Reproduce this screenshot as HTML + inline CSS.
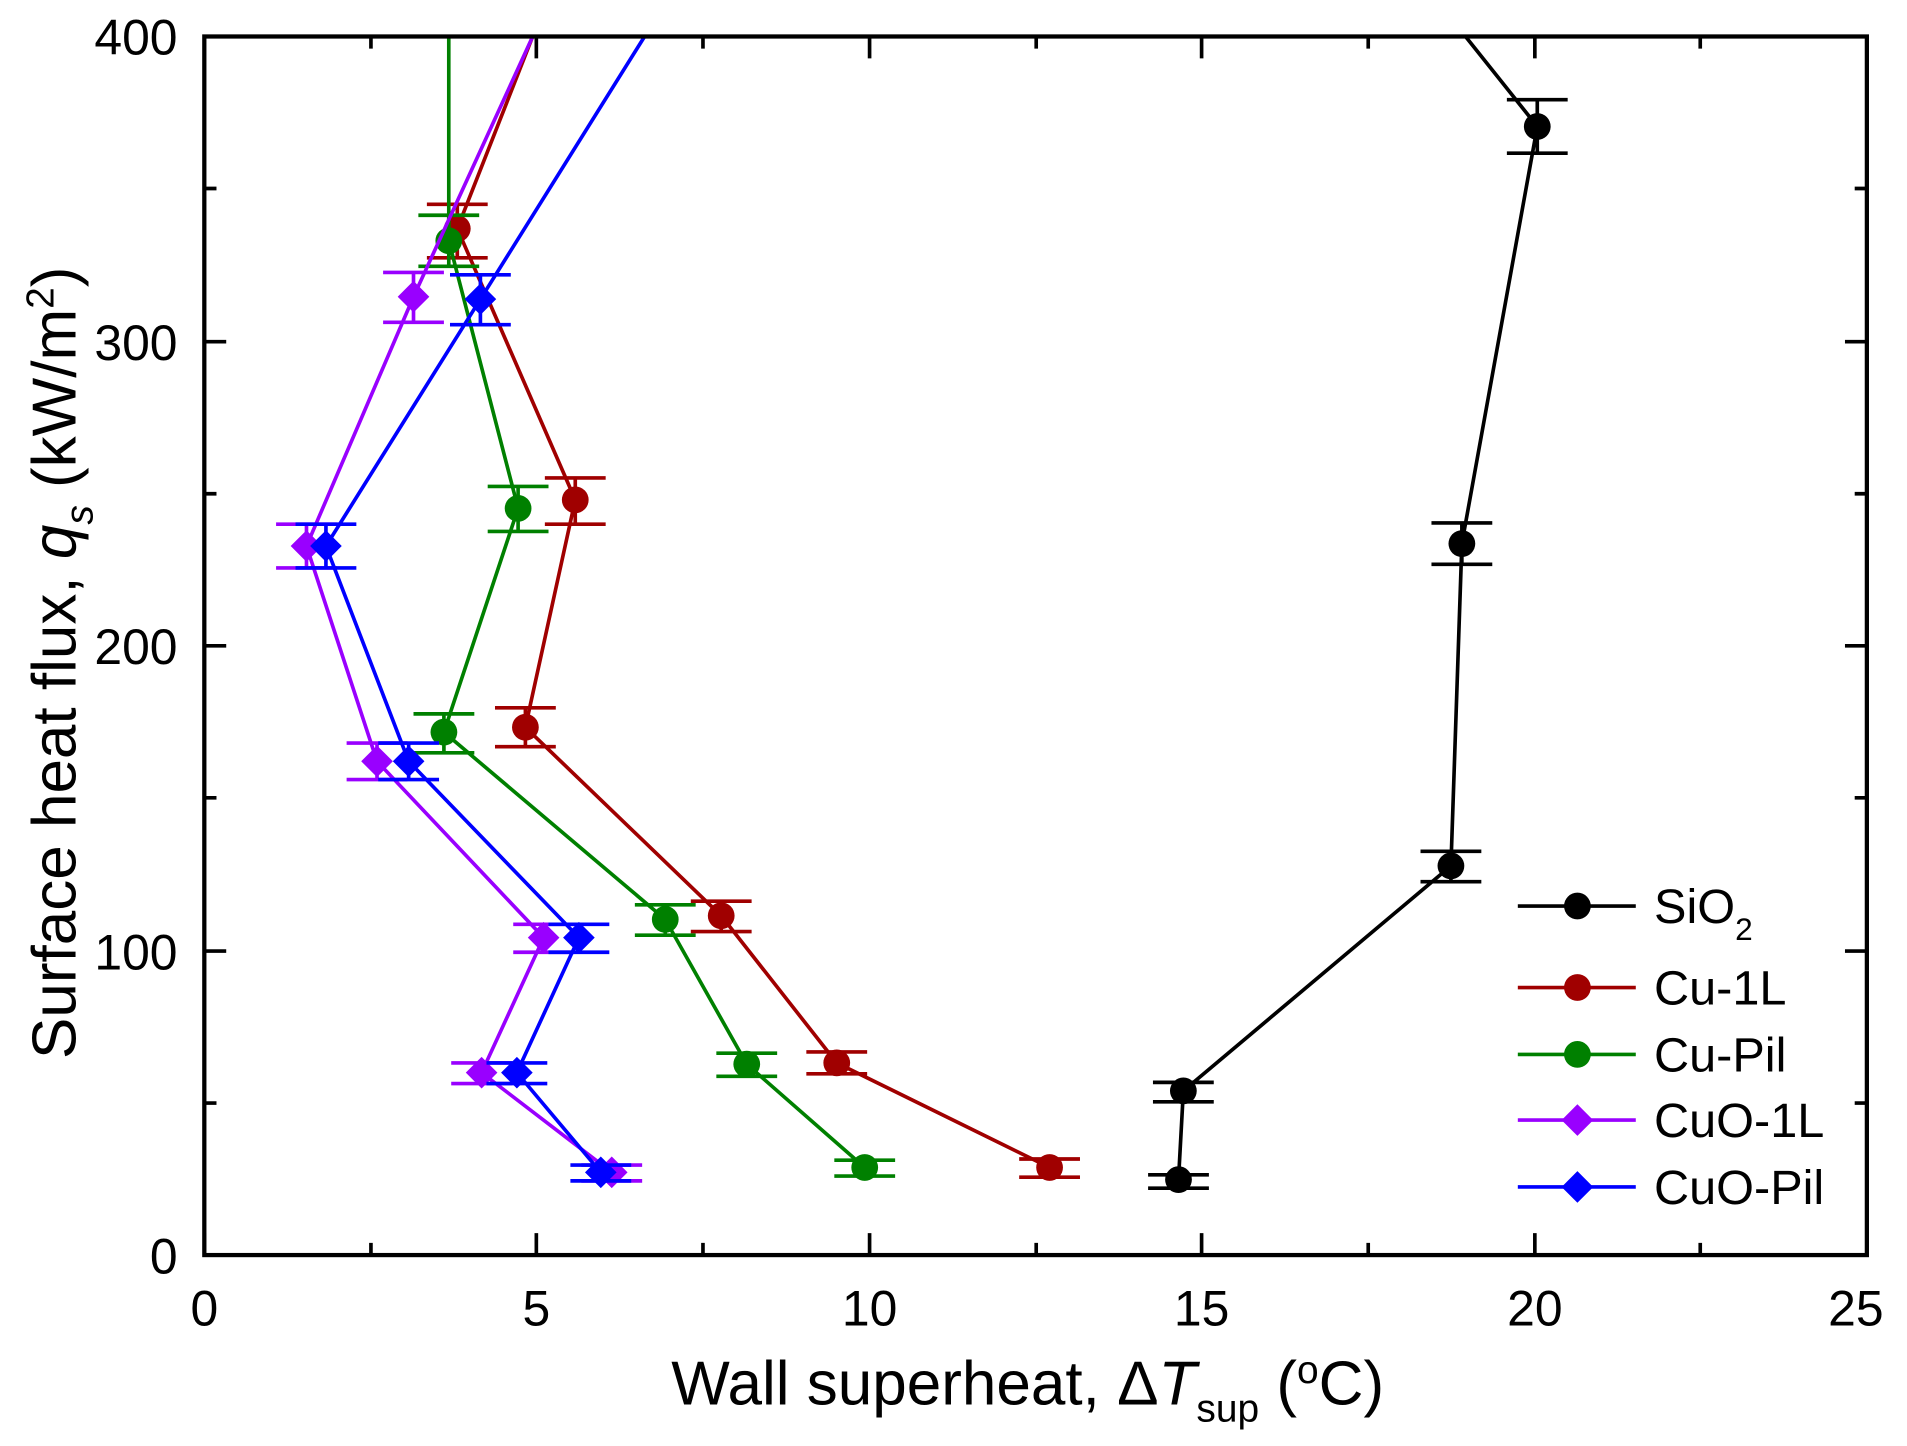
<!DOCTYPE html>
<html><head><meta charset="utf-8"><style>html,body{margin:0;padding:0;background:#fff}svg{display:block}</style></head>
<body>
<svg width="1907" height="1446" viewBox="0 0 1568 1189" preserveAspectRatio="none" xmlns="http://www.w3.org/2000/svg" font-family="Liberation Sans, Arial, sans-serif">
<defs>
<clipPath id="c"><rect x="168" y="30" width="1367" height="1002"/></clipPath>
</defs>
<g stroke="#000" stroke-width="3">
<path d="M168,1032v-18M441,1032v-18M715,1032v-18M988,1032v-18M1262,1032v-18M305,1032v-10M578,1032v-10M852,1032v-10M1125,1032v-10M1398,1032v-10
M441,30v18M715,30v18M988,30v18M1262,30v18M305,30v10M578,30v10M852,30v10M1125,30v10M1398,30v10
M168,782h18M168,531h18M168,281h18M168,907h10M168,656h10M168,406h10M168,155h10
M1535,782h-18M1535,531h-18M1535,281h-18M1535,907h-10M1535,656h-10M1535,406h-10M1535,155h-10" fill="none"/>
</g>
<g font-size="41" fill="#000" text-anchor="middle">
<text x="168" y="1090">0</text><text x="441" y="1090">5</text><text x="715" y="1090">10</text><text x="988" y="1090">15</text><text x="1262" y="1090">20</text><text x="1526" y="1090">25</text>
</g>
<g font-size="41" fill="#000" text-anchor="end">
<text x="146" y="1047">0</text><text x="146" y="797">100</text><text x="146" y="546">200</text><text x="146" y="296">300</text><text x="146" y="45">400</text>
</g>
<text x="845" y="1155" font-size="51" text-anchor="middle">Wall superheat, Δ<tspan font-style="italic">T</tspan><tspan font-size="32" dy="14">sup</tspan><tspan dy="-14"> (</tspan><tspan font-size="32" dy="-18">o</tspan><tspan dy="18">C)</tspan></text>
<text transform="translate(62,545) rotate(-90)" font-size="51" text-anchor="middle">Surface heat flux, <tspan font-style="italic">q</tspan><tspan font-size="32" font-style="italic" dy="14">s</tspan><tspan dy="-14"> (kW/m</tspan><tspan font-size="32" dy="-18">2</tspan><tspan dy="18">)</tspan></text>

<g clip-path="url(#c)" fill="none" stroke-width="3">
<g stroke="#000">
<polyline points="969,970 973,897 1193,712 1202,447 1264,104 1205,30"/>
<path d="M969,962v16M944,966h50M944,977h50 M973,890v16M948,890h50M948,906h50 M1193,700v25M1168,700h50M1168,725h50 M1202,430v34M1177,430h50M1177,464h50 M1264,82v44M1239,82h50M1239,126h50"/>
</g>
<g fill="#000"><circle cx="969" cy="970" r="11"/><circle cx="973" cy="897" r="11"/><circle cx="1193" cy="712" r="11"/><circle cx="1202" cy="447" r="11"/><circle cx="1264" cy="104" r="11"/></g>
<g stroke="#a00000">
<polyline points="863,960 688,874 593,753 432,598 473,411 376,188 438,30"/>
<path d="M863,953v15M838,953h50M838,968h50 M688,865v18M663,865h50M663,883h50 M593,741v25M568,741h50M568,766h50 M432,582v32M407,582h50M407,614h50 M473,393v38M448,393h50M448,431h50 M376,168v44M351,168h50M351,212h50"/>
</g>
<g fill="#a00000"><circle cx="863" cy="960" r="11"/><circle cx="688" cy="874" r="11"/><circle cx="593" cy="753" r="11"/><circle cx="432" cy="598" r="11"/><circle cx="473" cy="411" r="11"/><circle cx="376" cy="188" r="11"/></g>
<g stroke="#008000">
<polyline points="711,960 614,875 547,756 365,602 426,418 369,198 369,30"/>
<path d="M711,954v13M686,954h50M686,967h50 M614,866v19M589,866h50M589,885h50 M547,744v25M522,744h50M522,769h50 M365,587v32M340,587h50M340,619h50 M426,400v37M401,400h50M401,437h50 M369,177v42M344,177h50M344,219h50"/>
</g>
<g fill="#008000"><circle cx="711" cy="960" r="11"/><circle cx="614" cy="875" r="11"/><circle cx="547" cy="756" r="11"/><circle cx="365" cy="602" r="11"/><circle cx="426" cy="418" r="11"/><circle cx="369" cy="198" r="11"/></g>
<g stroke="#9900ff">
<polyline points="503,964 396,882 447,771 310,626 252,449 340,244 438,30"/>
<path d="M503,958v13M478,958h50M478,971h50 M396,874v17M371,874h50M371,891h50 M447,760v23M422,760h50M422,783h50 M310,611v30M285,611h50M285,641h50 M252,431v36M227,431h50M227,467h50 M340,224v41M315,224h50M315,265h50"/>
</g>
<g fill="#9900ff"><path d="M503,951l13,13l-13,13l-13,-13z M396,869l13,13l-13,13l-13,-13z M447,758l13,13l-13,13l-13,-13z M310,613l13,13l-13,13l-13,-13z M252,436l13,13l-13,13l-13,-13z M340,231l13,13l-13,13l-13,-13z"/></g>
<g stroke="#0000ff">
<polyline points="494,964 425,882 476,771 336,626 268,449 395,246 530,30"/>
<path d="M494,958v13M469,958h50M469,971h50 M425,874v17M400,874h50M400,891h50 M476,760v23M451,760h50M451,783h50 M336,611v30M311,611h50M311,641h50 M268,431v36M243,431h50M243,467h50 M395,226v41M370,226h50M370,267h50"/>
</g>
<g fill="#0000ff"><path d="M494,951l13,13l-13,13l-13,-13z M425,869l13,13l-13,13l-13,-13z M476,758l13,13l-13,13l-13,-13z M336,613l13,13l-13,13l-13,-13z M268,436l13,13l-13,13l-13,-13z M395,233l13,13l-13,13l-13,-13z"/></g>
</g>
<rect x="168" y="30" width="1367" height="1002" fill="none" stroke="#000" stroke-width="3.5"/>
<g stroke-width="3">
<line x1="1248" y1="745" x2="1345" y2="745" stroke="#000"/><circle cx="1297" cy="745" r="11" fill="#000"/>
<line x1="1248" y1="812" x2="1345" y2="812" stroke="#a00000"/><circle cx="1297" cy="812" r="11" fill="#a00000"/>
<line x1="1248" y1="867" x2="1345" y2="867" stroke="#008000"/><circle cx="1297" cy="867" r="11" fill="#008000"/>
<line x1="1248" y1="921" x2="1345" y2="921" stroke="#9900ff"/><path d="M1297,908l13,13l-13,13l-13,-13z" fill="#9900ff"/>
<line x1="1248" y1="976" x2="1345" y2="976" stroke="#0000ff"/><path d="M1297,963l13,13l-13,13l-13,-13z" fill="#0000ff"/>
</g>
<g font-size="40" fill="#000">
<text x="1360" y="759">SiO<tspan font-size="26" dy="14">2</tspan></text>
<text x="1360" y="826">Cu-1L</text>
<text x="1360" y="881">Cu-Pil</text>
<text x="1360" y="935">CuO-1L</text>
<text x="1360" y="990">CuO-Pil</text>
</g>
</svg>
</body></html>
